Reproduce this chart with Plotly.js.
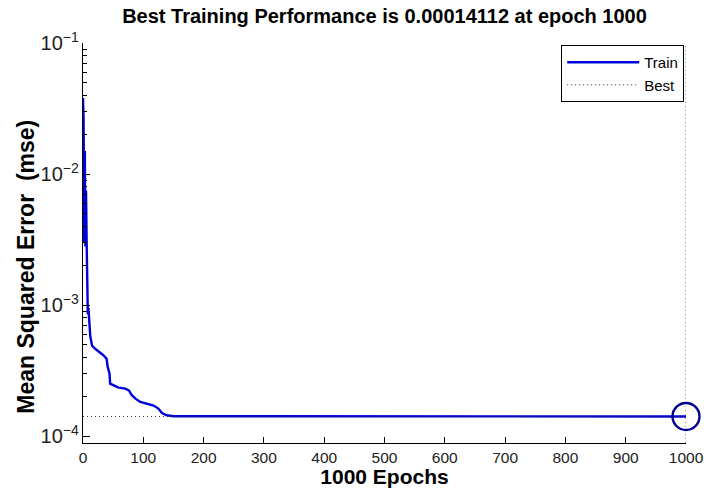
<!DOCTYPE html>
<html>
<head>
<meta charset="utf-8">
<script src="https://cdn.plot.ly/plotly-3.0.1.min.js"></script>
<style>html,body{margin:0;padding:0;background:#fff;}#chart{width:705px;height:488px;}</style>
</head>
<body>
<div id="chart"></div>
<script>
// Training record (epoch, mse)
const epochs = [0, 1, 2, 3, 4, 5, 6, 7, 8, 9, 10, 11, 12, 15, 20, 29, 34, 39, 41, 44, 45, 51, 59, 70, 76, 81, 87, 95, 106, 117, 125, 131, 139, 145, 150, 200, 250, 251, 1000];
const trainMSE = [0.038, 0.026, 0.0030, 0.0150, 0.0028, 0.0075, 0.0031, 0.0014, 0.00085, 0.00095, 0.00072, 0.00062, 0.00058, 0.00049, 0.000464, 0.00043, 0.000413, 0.00039, 0.000337, 0.000299, 0.000251, 0.000244, 0.000234, 0.00023, 0.000223, 0.000205, 0.000193, 0.000182, 0.000177, 0.000171, 0.000162, 0.00015, 0.000144, 0.000142, 0.0001415, 0.0001415, 0.0001414, 0.00014112, 0.00014112];
const bestEpoch = 1000;
const bestPerf = 0.00014112;
const xTickVals = [0, 100, 200, 300, 400, 500, 600, 700, 800, 900, 1000];
const yTitle = 'Mean Squared Error  (mse)';

const FONT = 'Liberation Sans, Arial, Helvetica, sans-serif';
const DOTS = '1px,3px';

const traces = [
  {
    x: epochs, y: trainMSE, name: 'Train', type: 'scatter', mode: 'lines',
    line: {color: '#0000dd', width: 2.4}
  },
  {
    x: [epochs[0], bestEpoch], y: [bestPerf, bestPerf], name: 'Best', type: 'scatter', mode: 'lines',
    line: {color: '#333333', width: 1, dash: DOTS}
  },
  {
    x: [bestEpoch], y: [bestPerf], type: 'scatter', mode: 'markers', showlegend: false,
    marker: {symbol: 'circle-open', size: 27, color: '#000090', line: {color: '#000090', width: 2.4}},
    cliponaxis: false
  }
];

const layout = {
  width: 705, height: 488,
  margin: {l: 83, r: 19, t: 43, b: 45},
  paper_bgcolor: '#ffffff', plot_bgcolor: '#ffffff',
  font: {family: FONT, color: '#000'},
  title: {
    text: '<b>Best Training Performance is 0.00014112 at epoch 1000</b>',
    font: {size: 20, family: FONT, color: '#000'},
    x: 0.5, xref: 'paper', xanchor: 'center', y: 0.982, yref: 'container', yanchor: 'top'
  },
  xaxis: {
    range: [0, 1000], tickvals: xTickVals, ticks: 'inside', ticklen: 6, tickcolor: '#000',
    showline: true, linecolor: '#000', linewidth: 1, mirror: false,
    showgrid: false, zeroline: false,
    tickfont: {size: 15.5, color: '#222', family: FONT},
    title: {text: '<b>1000 Epochs</b>', font: {size: 21, family: FONT, color: '#000'}, standoff: 2}
  },
  yaxis: {
    type: 'log', range: [-4.053, -1], dtick: 1, exponentformat: 'power',
    ticks: 'inside', ticklen: 7, tickcolor: '#000',
    minor: {ticks: 'inside', ticklen: 4, tickcolor: '#000', showgrid: false},
    showline: true, linecolor: '#000', linewidth: 1, mirror: false,
    showgrid: false, zeroline: false,
    tickfont: {size: 16, color: '#222', family: FONT}
  },
  annotations: [
    {text: '<b>' + yTitle + '</b>', textangle: -90, xref: 'paper', yref: 'paper',
     x: -0.095, y: 0.44, xanchor: 'center', yanchor: 'middle', showarrow: false,
     font: {size: 23, family: FONT, color: '#000'}}
  ],
  legend: {
    x: 0.997, xanchor: 'right', y: 0.995, yanchor: 'top',
    bgcolor: '#ffffff', bordercolor: '#000', borderwidth: 1,
    itemwidth: 72, tracegroupgap: 0,
    font: {size: 15, family: FONT, color: '#000'}
  },
  shapes: [
    {type: 'line', xref: 'x', yref: 'paper', x0: bestEpoch, x1: bestEpoch, y0: 0, y1: 1,
     line: {color: '#333333', width: 1, dash: DOTS}}
  ],
  showlegend: true
};

Plotly.newPlot('chart', traces, layout, {displayModeBar: false, staticPlot: true});
</script>
</body>
</html>
